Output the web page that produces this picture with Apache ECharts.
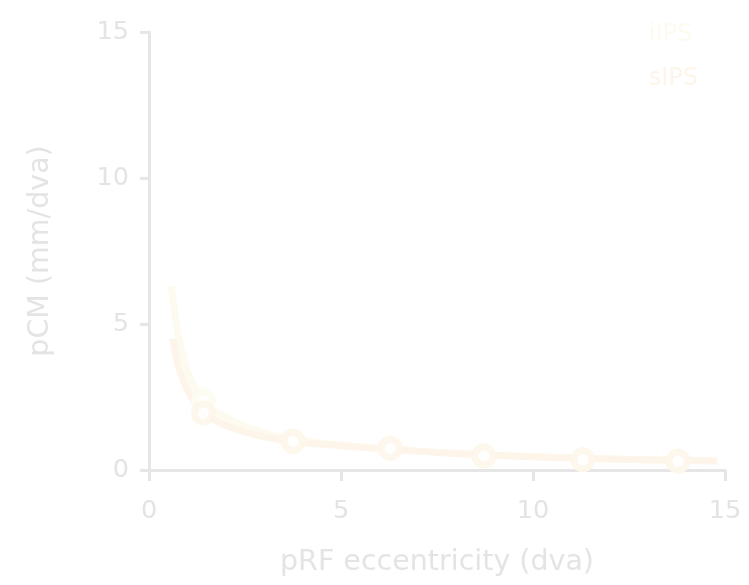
<!DOCTYPE html>
<html><head><meta charset="utf-8">
<script src="https://cdn.jsdelivr.net/npm/echarts@6/dist/echarts.min.js"></script>
<style>html,body{margin:0;padding:0;background:#fff;}#c{width:749px;height:585px;}</style>
</head><body><div id="c"></div>
<script>
// Fitted curves (eccentricity, pCM)
const iipsCurveX = [0.58, 0.7, 0.8, 1.0, 1.2, 1.4, 1.7, 2.0, 2.5, 3.0, 3.8, 5.0, 6.3, 7.5, 8.8, 10.0, 11.3, 12.5, 13.8, 14.8];
const iipsCurveY = [6.3, 5.1, 4.4, 3.4, 2.8, 2.4, 2.05, 1.8, 1.5, 1.28, 1.05, 0.86, 0.72, 0.61, 0.52, 0.46, 0.41, 0.37, 0.34, 0.32];
const sipsCurveX = [0.62, 0.7, 0.8, 1.0, 1.2, 1.4, 1.7, 2.0, 2.5, 3.0, 3.8, 5.0, 6.3, 7.5, 8.8, 10.0, 11.3, 12.5, 13.8, 14.8];
const sipsCurveY = [4.5, 3.9, 3.4, 2.75, 2.3, 2.0, 1.72, 1.52, 1.3, 1.14, 0.97, 0.83, 0.71, 0.6, 0.51, 0.45, 0.4, 0.36, 0.33, 0.31];
// Binned data points
const binX = [1.42, 3.75, 6.28, 8.72, 11.3, 13.78];
const iipsPoints = [2.37, 1.0, 0.75, 0.48, 0.35, 0.31];
const sipsPoints = [1.95, 0.98, 0.74, 0.48, 0.35, 0.30];
const seriesNames = ['iIPS', 'sIPS'];
const xTicks = [0, 5, 10, 15];
const yTicks = [0, 5, 10, 15];

const iipsColor = '#fdfbef';
const sipsColor = '#fdf5ea';
const axisColor = '#e6e6e6';
const labelColor = '#e4e4e4';
const font = 'DejaVu Sans';

const zip = (xs, ys) => xs.map((x, i) => [x, ys[i]]);

const chart = echarts.init(document.getElementById('c'));
chart.setOption({
  animation: false,
  backgroundColor: '#ffffff',
  grid: { left: 149, right: 24, top: 32, bottom: 115, containLabel: false },
  legend: {
    right: 46, top: 18, orient: 'vertical', itemGap: 20,
    icon: 'none', itemWidth: 0, itemHeight: 0,
    data: seriesNames,
    textStyle: { fontFamily: font, fontSize: 24, color: 'inherit', padding: 0 },
    formatter: n => n
  },
  xAxis: {
    type: 'value', min: xTicks[0], max: xTicks[xTicks.length - 1], interval: 5,
    name: 'pRF eccentricity (dva)', nameLocation: 'middle', nameGap: 78,
    nameTextStyle: { fontFamily: font, fontSize: 28.5, color: labelColor },
    axisLine: { show: true, lineStyle: { color: axisColor, width: 3 } },
    axisTick: { show: true, length: 11, lineStyle: { color: axisColor, width: 3 } },
    axisLabel: { fontFamily: font, fontSize: 25.5, color: labelColor, margin: 28 },
    splitLine: { show: false }
  },
  yAxis: {
    type: 'value', min: yTicks[0], max: yTicks[yTicks.length - 1], interval: 5,
    name: 'pCM (mm/dva)', nameLocation: 'middle', nameGap: 94,
    nameTextStyle: { fontFamily: font, fontSize: 28.5, color: labelColor },
    axisLine: { show: true, lineStyle: { color: axisColor, width: 3 } },
    axisTick: { show: true, length: 9, lineStyle: { color: axisColor, width: 3 } },
    axisLabel: { fontFamily: font, fontSize: 25.5, color: labelColor, margin: 20 },
    splitLine: { show: false }
  },
  series: [
    { name: 'iIPS', type: 'line', data: zip(iipsCurveX, iipsCurveY), smooth: true, showSymbol: false, symbol: 'none',
      color: iipsColor, lineStyle: { color: iipsColor, width: 7 }, z: 2 },
    { name: 'sIPS', type: 'line', data: zip(sipsCurveX, sipsCurveY), smooth: true, showSymbol: false, symbol: 'none',
      color: sipsColor, lineStyle: { color: sipsColor, width: 7 }, z: 2 },
    { name: 'iIPS', type: 'scatter', data: zip(binX, iipsPoints), symbol: 'circle', symbolSize: 18,
      itemStyle: { color: '#ffffff', borderColor: iipsColor, borderWidth: 7 }, z: 3 },
    { name: 'sIPS', type: 'scatter', data: zip(binX, sipsPoints), symbol: 'circle', symbolSize: 18,
      itemStyle: { color: '#ffffff', borderColor: sipsColor, borderWidth: 7 }, z: 3 }
  ]
});
</script></body></html>
